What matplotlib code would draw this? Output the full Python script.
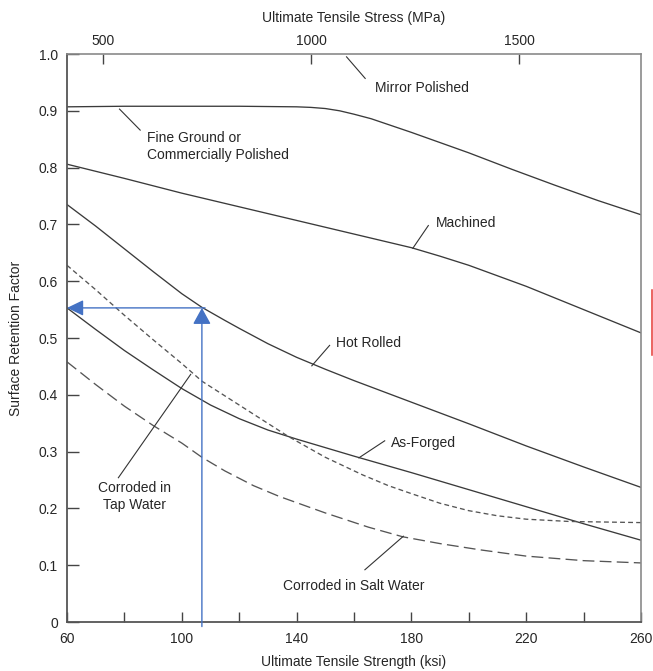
import matplotlib
matplotlib.use("Agg")
import matplotlib.pyplot as plt
from matplotlib.lines import Line2D

plt.rcParams['font.family'] = ['Liberation Sans', 'DejaVu Sans']
plt.rcParams['lines.scale_dashes'] = False

# ---------------- data ----------------
fine_x = [60, 80, 100, 120, 140, 145, 150, 155, 160, 166, 173, 180, 200, 215, 230, 245, 260]
fine_y = [0.907, 0.908, 0.908, 0.908, 0.907, 0.906, 0.904, 0.900, 0.894, 0.886, 0.874, 0.862, 0.826, 0.797, 0.769, 0.742, 0.717]

mach_x = [60, 80, 100, 120, 140, 160, 180, 190, 200, 220, 240, 260]
mach_y = [0.806, 0.781, 0.755, 0.731, 0.707, 0.683, 0.659, 0.644, 0.628, 0.591, 0.550, 0.509]

hot_x = [60, 70, 80, 90, 100, 107, 115, 120, 130, 140, 150, 160, 180, 200, 220, 240, 260]
hot_y = [0.735, 0.697, 0.657, 0.617, 0.578, 0.554, 0.531, 0.517, 0.490, 0.466, 0.445, 0.425, 0.387, 0.349, 0.310, 0.273, 0.237]

forg_x = [60, 70, 80, 90, 100, 110, 120, 130, 140, 160, 180, 200, 220, 240, 260]
forg_y = [0.553, 0.515, 0.478, 0.444, 0.411, 0.382, 0.358, 0.338, 0.322, 0.292, 0.263, 0.233, 0.203, 0.173, 0.144]

tap_x = [60, 70, 80, 90, 100, 107, 120, 137, 150, 163, 172, 180, 190, 200, 210, 220, 235, 260]
tap_y = [0.628, 0.585, 0.540, 0.497, 0.455, 0.424, 0.382, 0.327, 0.290, 0.259, 0.240, 0.226, 0.209, 0.196, 0.187, 0.181, 0.177, 0.175]

salt_x = [60, 70, 80, 90, 100, 107, 115, 125, 134, 150, 165, 177, 190, 204, 220, 240, 260]
salt_y = [0.458, 0.418, 0.380, 0.346, 0.315, 0.290, 0.266, 0.240, 0.221, 0.192, 0.167, 0.150, 0.138, 0.127, 0.116, 0.108, 0.104]

# example reading (blue arrows)
ex_ksi = 107
ex_factor = 0.553

x_ticks = [60, 80, 100, 120, 140, 160, 180, 200, 220, 240, 260]
x_labels = ['60', '', '100', '', '140', '', '180', '', '220', '', '260']
y_ticks = [0, 0.1, 0.2, 0.3, 0.4, 0.5, 0.6, 0.7, 0.8, 0.9, 1.0]
y_labels = ['0', '0.1', '0.2', '0.3', '0.4', '0.5', '0.6', '0.7', '0.8', '0.9', '1.0']
mpa_ticks = [500, 1000, 1500]
KSI_TO_MPA = 6.894757

# ---------------- figure ----------------
W, H = 653, 671
fig = plt.figure(figsize=(W / 100, H / 100), dpi=100)
ax = fig.add_axes([67 / W, 1 - 622 / H, 574 / W, 568 / H])
ax.set_xlim(60, 260)
ax.set_ylim(0, 1.0)

curve_c = '#3a3a3a'
lw = 0.95
ax.plot(fine_x, fine_y, color=curve_c, lw=lw)
ax.plot(mach_x, mach_y, color=curve_c, lw=lw)
ax.plot(hot_x, hot_y, color=curve_c, lw=lw)
ax.plot(forg_x, forg_y, color=curve_c, lw=lw)
ax.plot(tap_x, tap_y, color='#555555', lw=lw, linestyle=(0, (3.5, 2.3)))
ax.plot(salt_x, salt_y, color='#555555', lw=lw, linestyle=(0, (8.5, 3.8)))

# blue arrows
blue = '#4472C4'
ax.annotate('', xy=(ex_ksi, ex_factor), xytext=(ex_ksi, -0.008),
            arrowprops=dict(arrowstyle='-|>,head_length=1.0,head_width=0.55',
                            mutation_scale=10, color=blue, lw=1.0,
                            shrinkA=0, shrinkB=0), annotation_clip=False, zorder=5)
ax.annotate('', xy=(60, ex_factor), xytext=(ex_ksi + 1.1, ex_factor),
            arrowprops=dict(arrowstyle='-|>,head_length=1.0,head_width=0.48',
                            mutation_scale=10, color=blue, lw=1.0,
                            shrinkA=0, shrinkB=0), annotation_clip=False, zorder=5)

# labels with leader lines
tc = '#262626'
lead = dict(color='#333333', lw=0.8)
fs = 10
ax.plot([157.4, 163.9], [0.995, 0.957], **lead)
ax.text(167.4, 0.940, 'Mirror Polished', fontsize=fs, color=tc, va='center', ha='left')

ax.plot([78.3, 85.5], [0.903, 0.866], **lead)
ax.text(87.9, 0.837, 'Fine Ground or\nCommercially Polished', fontsize=fs, color=tc,
        va='center', ha='left', linespacing=1.25)

ax.plot([180.5, 185.9], [0.658, 0.698], **lead)
ax.text(188.5, 0.703, 'Machined', fontsize=fs, color=tc, va='center', ha='left')

ax.plot([145.3, 151.5], [0.451, 0.487], **lead)
ax.text(153.8, 0.491, 'Hot Rolled', fontsize=fs, color=tc, va='center', ha='left')

ax.plot([161.7, 170.7], [0.289, 0.319], **lead)
ax.text(172.8, 0.316, 'As-Forged', fontsize=fs, color=tc, va='center', ha='left')

ax.plot([103.1, 77.9], [0.436, 0.254], **lead)
ax.text(83.6, 0.221, 'Corroded in\nTap Water', fontsize=fs, color=tc,
        va='center', ha='center', linespacing=1.25)

ax.plot([177.2, 163.8], [0.151, 0.092], **lead)
ax.text(160.0, 0.064, 'Corroded in Salt Water', fontsize=fs, color=tc, va='center', ha='center')

# axes styling
ax.set_xticks(x_ticks)
ax.set_xticklabels(x_labels)
ax.set_yticks(y_ticks)
ax.set_yticklabels(y_labels)
ax.tick_params(axis='x', direction='in', length=7.5, width=1.0, color='#444444',
               labelsize=fs, labelcolor=tc, pad=7.5, top=False)
ax.tick_params(axis='y', direction='in', length=8.5, width=1.0, color='#444444',
               labelsize=fs, labelcolor=tc, pad=6.5, right=False)
for side in ['left', 'bottom']:
    ax.spines[side].set_color('#555555')
    ax.spines[side].set_linewidth(1.3)
for side in ['top', 'right']:
    ax.spines[side].set_color('#8a8a8a')
    ax.spines[side].set_linewidth(1.2)

ax.set_xlabel('Ultimate Tensile Strength (ksi)', fontsize=fs, color=tc)
ax.xaxis.set_label_coords(0.5, -0.058)
ax.set_ylabel('Surface Retention Factor', fontsize=fs, color=tc)
ax.yaxis.set_label_coords(-0.077, 0.5)

sec = ax.secondary_xaxis('top', functions=(lambda k: k * KSI_TO_MPA, lambda m: m / KSI_TO_MPA))
sec.set_xticks(mpa_ticks)
sec.tick_params(axis='x', direction='in', length=7.5, width=1.0, color='#444444',
                labelsize=fs, labelcolor=tc, pad=4)
sec.spines['top'].set_visible(False)
sec.set_xlabel('Ultimate Tensile Stress (MPa)', fontsize=fs, color=tc, labelpad=9)

# stray red mark at the right edge of the picture
fig.add_artist(Line2D([652 / W, 652 / W], [1 - 290 / H, 1 - 355 / H],
                      transform=fig.transFigure, color='#e53935', lw=1.1))

fig.savefig('out.png', dpi=100, facecolor='white')
